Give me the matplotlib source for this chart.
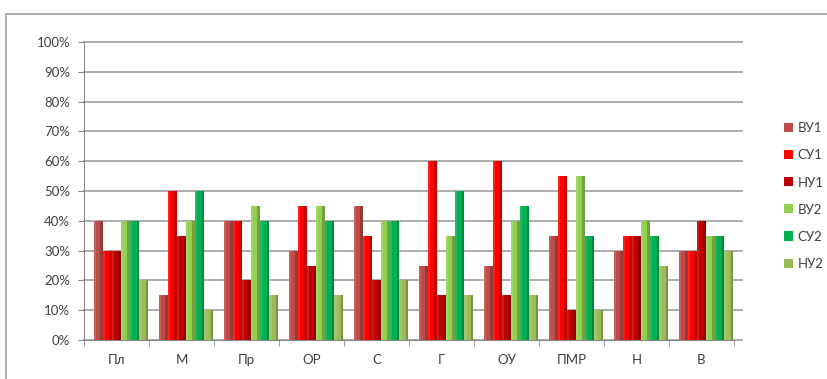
import matplotlib
matplotlib.use("Agg")
import matplotlib.pyplot as plt
import matplotlib.colors as mcolors
import numpy as np

plt.rcParams['font.family'] = ['Lato', 'DejaVu Sans']

categories = ["Пл", "М", "Пр", "ОР", "С", "Г", "ОУ", "ПМР", "Н", "В"]
series_names = ["ВУ1", "СУ1", "НУ1", "ВУ2", "СУ2", "НУ2"]
vu1 = [40, 15, 40, 30, 45, 25, 25, 35, 30, 30]
su1 = [30, 50, 40, 45, 35, 60, 60, 55, 35, 30]
nu1 = [30, 35, 20, 25, 20, 15, 15, 10, 35, 40]
vu2 = [40, 40, 45, 45, 40, 35, 40, 55, 40, 35]
su2 = [40, 50, 40, 40, 40, 50, 45, 35, 35, 35]
nu2 = [20, 10, 15, 15, 20, 15, 15, 10, 25, 30]
series = [vu1, su1, nu1, vu2, su2, nu2]
colors = ["#BE4B48", "#FF0000", "#C00000", "#92D050", "#00B050", "#9BBB59"]

W, H = 828, 379
fig = plt.figure(figsize=(W / 100, H / 100), dpi=100)

# outer frame
frame = plt.Rectangle((6 / W, -10 / H), (W + 10) / W, (H - 14 + 10) / H,
                      transform=fig.transFigure, fill=False, edgecolor="#A0A0A0", lw=1.2)
fig.patches.append(frame)

ax_left, ax_right = 84, 734
ax_top, ax_bottom = 42, 340
ax = fig.add_axes([ax_left / W, 1 - ax_bottom / H, (ax_right - ax_left) / W, (ax_bottom - ax_top) / H])

x = np.arange(len(categories))
bw = 0.14
shift = 0.07
for i, (vals, c) in enumerate(zip(series, colors)):
    v = np.array(vals) / 100.0
    pos = x + shift + (i - 2.5) * bw
    base = np.array(mcolors.to_rgb(c))
    dark = base * 0.78
    light = np.clip(base + (1 - base) * 0.12, 0, 1)
    ax.bar(pos, v, width=bw, color=c, edgecolor="none", zorder=3, label=series_names[i])
    ax.bar(pos - bw / 2, v, width=bw * 0.25, align="edge", color=light, edgecolor="none", zorder=3)
    ax.bar(pos + bw / 2 - bw * 0.3, v, width=bw * 0.3, align="edge", color=dark, edgecolor="none", zorder=3)

ax.set_xlim(-0.5, len(categories) - 0.5)
ax.set_ylim(0, 1.0)
yt = np.arange(0, 1.01, 0.1)
ax.set_yticks(yt)
ax.set_yticklabels([f"{int(round(t * 100))}%" for t in yt])
for t in yt:
    ax.axhline(t, xmin=0, xmax=1.012, color="#A6A6A6", lw=1.3, zorder=1, clip_on=False)

ax.set_xticks(x)
ax.set_xticklabels(categories)
ax.set_xticks(np.arange(-0.5, len(categories)), minor=True)
ax.tick_params(axis="x", which="major", length=0, pad=10, labelsize=9.5, labelcolor="#404040")
ax.tick_params(axis="x", which="minor", length=4, color="#888888", direction="out")
ax.tick_params(axis="y", length=4, color="#888888", labelsize=9.5, labelcolor="#404040", pad=6)

for s in ["top", "right"]:
    ax.spines[s].set_visible(False)
ax.spines["left"].set_color("#888888")
ax.spines["bottom"].set_color("#888888")
ax.set_facecolor("none")

handles, labels = ax.get_legend_handles_labels()
leg = fig.legend(handles, labels, loc="upper left", bbox_to_anchor=(779 / W, 1 - 117 / H),
                 frameon=False, fontsize=9.5, labelspacing=1.15, handlelength=0.6,
                 handleheight=0.6, handletextpad=0.4, borderaxespad=0)
for t in leg.get_texts():
    t.set_color("#404040")
for p in leg.get_patches():
    p.set_height(6.5)
    p.set_width(6.5)

fig.savefig("out.png", dpi=100)
